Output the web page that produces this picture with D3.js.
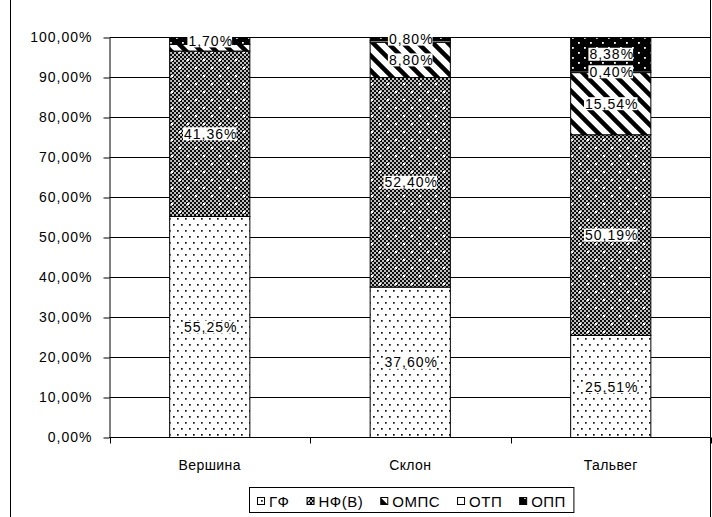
<!DOCTYPE html>
<html>
<head>
<meta charset="utf-8">
<script src="https://cdn.jsdelivr.net/npm/d3@7"></script>
<style>
    body { margin: 0; background: #fff; }
    text { font-family: "Liberation Sans", Arial, sans-serif; fill: #000; }
</style>
</head>
<body>
<svg id="chart"></svg>
<script>
// chart values
const categories = ["Вершина", "Склон", "Тальвег"];
const seriesNames = ["ГФ", "НФ(В)", "ОМПС", "ОТП", "ОПП"];
const gf = [55.25, 37.60, 25.51];
const nf = [41.36, 52.40, 50.19];
const omps = [1.69, 8.80, 15.54];
const otp = [0, 0.40, 0.40];
const opp = [1.70, 0.80, 8.38];
const yTicks = [0, 10, 20, 30, 40, 50, 60, 70, 80, 90, 100];

function init() {
    const s_width = 712;
    const s_height = 517;
    const left = 109.5, right = 711, top = 37.5, bottom = 437.5;

    const svg = d3.select("#chart")
        .attr("width", s_width)
        .attr("height", s_height);

    const rows = categories.map((c, i) => ({
        cat: c, "ГФ": gf[i], "НФ(В)": nf[i], "ОМПС": omps[i], "ОТП": otp[i], "ОПП": opp[i]
    }));

    const fmt = v => d3.format(".2f")(v).replace(".", ",") + "%";

    //patterns for the fills
    const defs = svg.append("defs");

    //ГФ - sparse dots
    const pGf = defs.append("pattern").attr("id", "p0")
        .attr("patternUnits", "userSpaceOnUse").attr("width", 8).attr("height", 12);
    pGf.append("rect").attr("width", 8).attr("height", 12).attr("fill", "#fff");
    [[1, 2], [5, 8]].forEach(p => pGf.append("rect").attr("x", p[0]).attr("y", p[1])
        .attr("width", 1.7).attr("height", 1.7).attr("fill", "#111"));

    //НФ(В) - checker with white dots
    const pNf = defs.append("pattern").attr("id", "p1")
        .attr("patternUnits", "userSpaceOnUse").attr("width", 16).attr("height", 16);
    pNf.append("rect").attr("width", 16).attr("height", 16).attr("fill", "#fff");
    for (let i = 0; i < 8; i++) {
        for (let j = 0; j < 8; j++) {
            if ((i + j) % 2 === 0)
                pNf.append("rect").attr("x", i * 2).attr("y", j * 2)
                    .attr("width", 2).attr("height", 2).attr("fill", "#111");
        }
    }
    pNf.append("rect").attr("width", 16).attr("height", 16).attr("fill", "#000").attr("opacity", 0.25);
    [[3, 3], [11, 11]].forEach(p => pNf.append("rect").attr("x", p[0]).attr("y", p[1])
        .attr("width", 2).attr("height", 2).attr("fill", "#fff"));

    //ОМПС - wide downward diagonal
    const pOm = defs.append("pattern").attr("id", "p2")
        .attr("patternUnits", "userSpaceOnUse").attr("width", 15).attr("height", 15);
    pOm.append("rect").attr("width", 15).attr("height", 15).attr("fill", "#fff");
    pOm.append("path")
        .attr("d", "M-8,-8 L23,23 M-23,-8 L8,23 M7,-8 L38,23")
        .attr("stroke", "#000")
        .attr("stroke-width", 4.5);

    //ОТП - white
    const pOt = defs.append("pattern").attr("id", "p3")
        .attr("patternUnits", "userSpaceOnUse").attr("width", 8).attr("height", 8);
    pOt.append("rect").attr("width", 8).attr("height", 8).attr("fill", "#fff");

    //ОПП - black with white dots
    const pOp = defs.append("pattern").attr("id", "p4")
        .attr("patternUnits", "userSpaceOnUse").attr("width", 12).attr("height", 10);
    pOp.append("rect").attr("width", 12).attr("height", 10).attr("fill", "#000");
    [[2, 2], [8, 7]].forEach(p => pOp.append("rect").attr("x", p[0]).attr("y", p[1])
        .attr("width", 1.8).attr("height", 1.8).attr("fill", "#fff"));

    //outer frame
    svg.append("rect")
        .attr("x", 10.5).attr("y", -2)
        .attr("width", 700).attr("height", s_height + 4)
        .attr("fill", "none").attr("stroke", "#000");

    const scaleX = d3.scaleBand()
        .domain(categories)
        .range([left, right])
        .paddingInner(0.6)
        .paddingOuter(0.3);
    const scaleY = d3.scaleLinear()
        .domain([0, 100])
        .range([bottom, top]);

    //gridlines
    svg.append("g").selectAll("line").data(yTicks).enter()
        .append("line")
        .attr("x1", left).attr("x2", right)
        .attr("y1", d => scaleY(d)).attr("y2", d => scaleY(d))
        .attr("stroke", "#000");

    //stacked bars (100%)
    const stack = d3.stack().keys(seriesNames).offset(d3.stackOffsetExpand);
    const layers = stack(rows);

    svg.append("g").selectAll("g").data(layers).enter()
        .append("g")
        .attr("fill", (d, i) => `url(#p${i})`)
        .selectAll("rect").data(d => d.filter(s => s.data[d.key] > 0)).enter()
        .append("rect")
        .attr("x", d => scaleX(d.data.cat))
        .attr("width", scaleX.bandwidth())
        .attr("y", d => scaleY(d[1] * 100))
        .attr("height", d => scaleY(d[0] * 100) - scaleY(d[1] * 100))
        .attr("stroke", "#000")
        .attr("stroke-width", 1);

    //data labels, top series first, skip the ones that would overlap
    const lblG = svg.append("g");
    const kept = {};
    categories.forEach(c => kept[c] = []);
    for (let k = layers.length - 1; k >= 0; k--) {
        const layer = layers[k];
        layer.forEach(s => {
            const v = s.data[layer.key];
            if (!(v > 0)) return;
            const cy = scaleY((s[0] + s[1]) / 2 * 100);
            if (kept[s.data.cat].some(y => Math.abs(y - cy) < 12)) return;
            kept[s.data.cat].push(cy);
            const cx = scaleX(s.data.cat) + scaleX.bandwidth() / 2;
            const g = lblG.append("g");
            const t = g.append("text")
                .attr("x", cx + 1).attr("y", cy)
                .attr("dy", "0.36em")
                .attr("text-anchor", "middle")
                .style("font-size", "14px")
                .style("letter-spacing", "1px")
                .text(fmt(v));
            const bb = t.node().getBBox();
            g.insert("rect", "text")
                .attr("x", bb.x - 1).attr("y", cy - 6.5)
                .attr("width", bb.width).attr("height", 13)
                .attr("fill", "#fff");
        });
    }

    //y axis
    const yAxis = d3.axisLeft(scaleY).tickValues(yTicks).tickSize(6).tickSizeOuter(0)
        .tickFormat(d => fmt(d));
    svg.append("g")
        .attr("transform", `translate(${left}, 0)`)
        .call(yAxis)
        .call(g => g.select(".domain").attr("stroke", "#000"))
        .call(g => g.selectAll(".tick line").attr("stroke", "#000"))
        .call(g => g.selectAll(".tick text")
            .attr("x", -17)
            .style("font-size", "14px")
            .style("letter-spacing", "1px")
            .style("font-family", "Liberation Sans, Arial, sans-serif")
            .attr("fill", "#000"));

    //x axis with ticks between categories
    svg.append("line")
        .attr("x1", left).attr("x2", right)
        .attr("y1", bottom).attr("y2", bottom)
        .attr("stroke", "#000");
    const bounds = d3.range(categories.length + 1).map(i => left + i * scaleX.step());
    svg.append("g").selectAll("line").data(bounds).enter()
        .append("line")
        .attr("x1", d => Math.round(d) + 0.5).attr("x2", d => Math.round(d) + 0.5)
        .attr("y1", bottom).attr("y2", bottom + 6)
        .attr("stroke", "#000");
    svg.append("g").selectAll("text").data(categories).enter()
        .append("text")
        .attr("x", d => scaleX(d) + scaleX.bandwidth() / 2)
        .attr("y", 470)
        .attr("text-anchor", "middle")
        .style("font-size", "14px")
        .style("letter-spacing", "0.4px")
        .text(d => d);

    //legend
    const legend = svg.append("g");
    const box = legend.append("rect")
        .attr("y", 487.5).attr("height", 25)
        .attr("fill", "#fff").attr("stroke", "#000");
    let lx = 257;
    seriesNames.forEach((name, i) => {
        legend.append("rect")
            .attr("x", lx + 0.5).attr("y", 497.5)
            .attr("width", 7).attr("height", 7)
            .attr("fill", `url(#p${i})`)
            .attr("stroke", "#000");
        const t = legend.append("text")
            .attr("x", lx + 12).attr("y", 507)
            .style("font-size", "15px")
            .style("letter-spacing", "0.5px")
            .text(name);
        lx += 12 + t.node().getComputedTextLength() + 17;
    });
    box.attr("x", 249.5).attr("width", lx - 17 + 8 - 249.5);
}

window.onload = init;
</script>
</body>
</html>
